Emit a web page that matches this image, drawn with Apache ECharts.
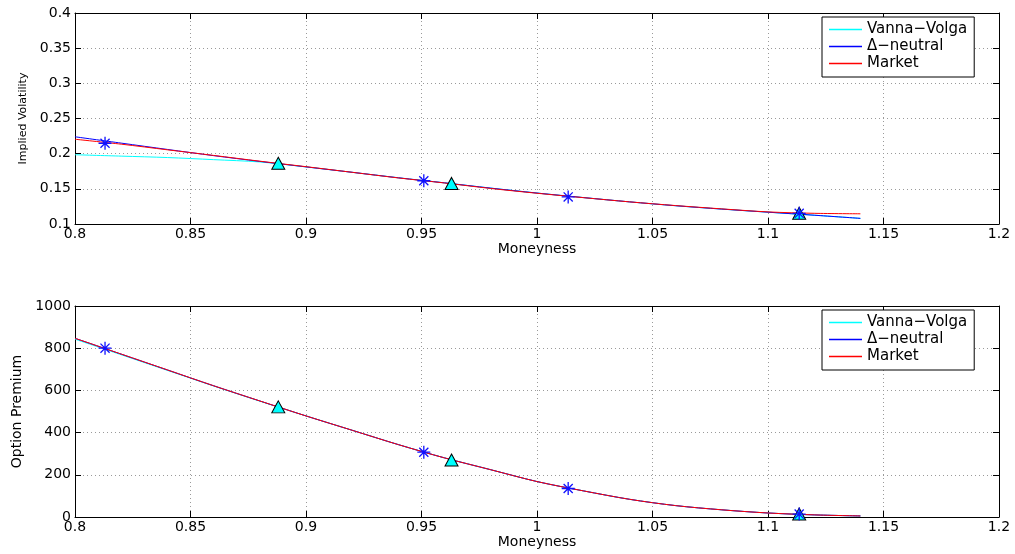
<!DOCTYPE html>
<html>
<head>
<meta charset="utf-8">
<script src="https://cdn.jsdelivr.net/npm/echarts@6/dist/echarts.min.js"></script>
<style>
  html, body { margin: 0; padding: 0; background: #fff; }
  #chart { width: 1015px; height: 554px; }
</style>
</head>
<body>
<div id="chart"></div>
<script>
// Moneyness grid for the smile curves
const moneyness = [0.80, 0.82, 0.84, 0.86, 0.88, 0.90, 0.92, 0.94, 0.96, 0.98,
                   1.00, 1.02, 1.04, 1.06, 1.08, 1.10, 1.12, 1.14];

// Implied volatility curves
const volVannaVolga   = [0.1985, 0.1965, 0.1945, 0.1915, 0.1882, 0.1812, 0.1735, 0.1657, 0.1585, 0.1510,
                         0.1440, 0.1376, 0.1315, 0.1260, 0.1212, 0.1168, 0.1125, 0.1080];
const volDeltaNeutral = [0.2240, 0.2150, 0.2060, 0.1972, 0.1890, 0.1812, 0.1735, 0.1657, 0.1585, 0.1510,
                         0.1440, 0.1376, 0.1315, 0.1260, 0.1212, 0.1168, 0.1125, 0.1080];
const volMarket       = [0.2205, 0.2135, 0.2055, 0.1975, 0.1893, 0.1815, 0.1735, 0.1655, 0.1583, 0.1505,
                         0.1437, 0.1375, 0.1315, 0.1262, 0.1215, 0.1172, 0.1152, 0.1145];

// Option premium curves
const premVannaVolga   = [843, 769, 695, 621, 549, 479, 411, 343, 280, 224,
                          168, 124, 84, 54, 34, 19, 10, 5];
const premDeltaNeutral = [847, 772, 697, 622, 550, 479, 411, 343, 280, 224,
                          168, 124, 84, 54, 34, 19, 10, 5];
const premMarket       = [847, 772, 697, 622, 550, 479, 411, 343, 280, 224,
                          168, 124, 84, 54, 34, 19, 10, 5];

// Calibration pillars (triangles) and delta-neutral quotes (asterisks)
const pillarX     = [0.888, 0.963, 1.1135];
const pillarVol   = [0.1863, 0.1577, 0.1152];
const pillarPrem  = [522, 270, 14];
const quoteX      = [0.813, 0.951, 1.0135, 1.1135];
const quoteVol    = [0.2148, 0.1615, 0.1385, 0.1152];
const quotePrem   = [800, 307, 135, 14];

const seriesNames = ['Vanna\u2212Volga', '\u0394\u2212neutral', 'Market'];
const seriesColors = ['#00ffff', '#0000ff', '#ff0000'];

const pairs = (xs, ys) => xs.map((x, i) => [x, ys[i]]);
const fmt = v => String(Math.round(v * 100) / 100);

const FONT = 'DejaVu Sans';
const asterisk = 'path://M-1,-10L1,-10L1,10L-1,10Z M-10,-1L10,-1L10,1L-10,1Z ' +
  'M-7.7,-6.3L-6.3,-7.7L7.7,6.3L6.3,7.7Z M-6.3,7.7L-7.7,6.3L6.3,-7.7L7.7,-6.3Z';

const splitStyle = { show: true, lineStyle: { color: '#9a9a9a', type: [1, 3], width: 1 } };
const blackLine = { show: true, onZero: false, lineStyle: { color: '#000', width: 1 } };

function xAxesFor(g) {
  return [
    {
      type: 'value', gridIndex: g, position: 'bottom', min: 0.8, max: 1.2, interval: 0.05,
      axisLine: blackLine,
      axisTick: { show: true, inside: true, length: 6, lineStyle: { color: '#000' } },
      axisLabel: { color: '#000', fontFamily: FONT, fontSize: 14, margin: 3, formatter: fmt },
      splitLine: splitStyle,
      name: 'Moneyness', nameLocation: 'middle', nameGap: 18,
      nameTextStyle: { color: '#000', fontFamily: FONT, fontSize: 14 }
    },
    {
      type: 'value', gridIndex: g, position: 'top', min: 0.8, max: 1.2, interval: 0.05,
      axisLine: blackLine,
      axisTick: { show: true, inside: true, length: 6, lineStyle: { color: '#000' } },
      axisLabel: { show: false }, splitLine: { show: false }
    }
  ];
}

function yAxesFor(g, min, max, interval, name, nameSize, nameGap) {
  return [
    {
      type: 'value', gridIndex: g, position: 'left', min, max, interval,
      axisLine: blackLine,
      axisTick: { show: true, inside: true, length: 6, lineStyle: { color: '#000' } },
      axisLabel: { color: '#000', fontFamily: FONT, fontSize: 14, margin: 4, formatter: fmt },
      splitLine: splitStyle,
      name, nameLocation: 'middle', nameGap,
      nameTextStyle: { color: '#000', fontFamily: FONT, fontSize: nameSize }
    },
    {
      type: 'value', gridIndex: g, position: 'right', min, max, interval,
      axisLine: blackLine,
      axisTick: { show: true, inside: true, length: 6, lineStyle: { color: '#000' } },
      axisLabel: { show: false }, splitLine: { show: false }
    }
  ];
}

function legendAt(top) {
  return {
    orient: 'vertical', left: 822, top,
    data: seriesNames.map(n => ({ name: n, icon: 'rect' })),
    backgroundColor: '#fff', borderColor: '#000', borderWidth: 1,
    padding: [5, 7, 6, 7], itemWidth: 33, itemHeight: 1.3, itemGap: 2,
    textStyle: { color: '#000', fontFamily: FONT, fontSize: 15, lineHeight: 15 },
    z: 20
  };
}

function panelSeries(xIdx, yIdx, curves, pillars, quotes) {
  const out = curves.map((ys, i) => ({
    name: seriesNames[i], type: 'line', xAxisIndex: xIdx, yAxisIndex: yIdx,
    data: pairs(moneyness, ys), smooth: 0.3, symbol: 'none',
    lineStyle: { color: seriesColors[i], width: 1 }, itemStyle: { color: seriesColors[i] },
    z: 3 + i
  }));
  out.push({
    name: 'pillars', type: 'scatter', xAxisIndex: xIdx, yAxisIndex: yIdx,
    data: pairs(pillarX, pillars), symbol: 'triangle', symbolSize: [13, 12],
    itemStyle: { color: '#00ffff', borderColor: '#000', borderWidth: 1, opacity: 1 }, z: 8
  });
  out.push({
    name: 'quotes', type: 'scatter', xAxisIndex: xIdx, yAxisIndex: yIdx,
    data: pairs(quoteX, quotes), symbol: asterisk, symbolSize: 13,
    itemStyle: { color: '#1010ff', opacity: 1 }, z: 9
  });
  return out;
}

const chart = echarts.init(document.getElementById('chart'), null, { renderer: 'canvas' });
chart.setOption({
  backgroundColor: '#fff',
  animation: false,
  grid: [
    { left: 75, right: 16, top: 13, height: 211 },
    { left: 75, right: 16, top: 306, height: 211 }
  ],
  legend: [legendAt(17), legendAt(310)],
  xAxis: [...xAxesFor(0), ...xAxesFor(1)],
  yAxis: [
    ...yAxesFor(0, 0.1, 0.4, 0.05, 'Implied Volatility', 11, 43),
    ...yAxesFor(1, 0, 1000, 200, 'Option Premium', 14, 50)
  ],
  series: [
    ...panelSeries(0, 0, [volVannaVolga, volDeltaNeutral, volMarket], pillarVol, quoteVol),
    ...panelSeries(2, 2, [premVannaVolga, premDeltaNeutral, premMarket], pillarPrem, quotePrem)
  ]
});
</script>
</body>
</html>
